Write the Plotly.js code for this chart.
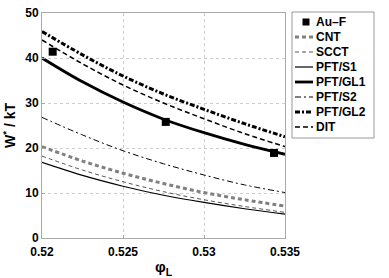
<!DOCTYPE html>
<html><head><meta charset="utf-8">
<script src="https://cdn.plot.ly/plotly-3.0.1.min.js"></script>
<style>body{margin:0;padding:0;background:#fff}#plot{width:389px;height:278px}</style>
</head><body><div id="plot"></div>
<script>
const phi = [0.52, 0.5225, 0.525, 0.5275, 0.53, 0.5325, 0.535];
const auF_phi = [0.52066, 0.52764, 0.53432];
const auF_W = [41.4, 25.8, 18.9];
const cnt = [20.3, 17.1, 14.4, 12.1, 10.1, 8.5, 7.1];
const scct = [18.2, 15.1, 12.5, 10.3, 8.5, 7.0, 5.7];
const pftS1 = [16.8, 13.9, 11.5, 9.5, 7.9, 6.5, 5.3];
const pftGL1 = [40.0, 34.7, 30.2, 26.4, 23.4, 20.8, 18.6];
const pftS2 = [26.8, 22.9, 19.4, 16.5, 14.0, 11.8, 10.1];
const pftGL2 = [45.9, 40.7, 36.0, 32.0, 28.6, 25.4, 22.5];
const dit = [44.0, 38.7, 34.0, 30.0, 26.5, 23.2, 20.3];
const seriesNames = ['Au\u2013F', 'CNT', 'SCCT', 'PFT/S1', 'PFT/GL1', 'PFT/S2', 'PFT/GL2', 'DIT'];
const xTicks = [0.52, 0.525, 0.53, 0.535];
const yTicks = [0, 10, 20, 30, 40, 50];

// styles (index-aligned with seriesNames, index 0 = markers)
const styles = [
  null,
  {color: '#808080', width: 3, dash: '4px,3px'},
  {color: '#555', width: 1, dash: '4px,3px'},
  {color: '#000', width: 1.2, dash: 'solid'},
  {color: '#000', width: 2.8, dash: 'solid'},
  {color: '#000', width: 1, dash: '6px,3px,2px,3px'},
  {color: '#000', width: 3, dash: '5px,2px,2px,2px'},
  {color: '#000', width: 1.5, dash: '5px,3px'}
];
const seriesY = [null, cnt, scct, pftS1, pftGL1, pftS2, pftGL2, dit];

const data = [
  {x: auF_phi, y: auF_W, name: seriesNames[0], type: 'scatter', mode: 'markers',
   marker: {symbol: 'square', color: '#000', size: 8}}
];
for (let i = 1; i < seriesNames.length; i++) {
  data.push({x: phi, y: seriesY[i], name: seriesNames[i], type: 'scatter', mode: 'lines',
    line: Object.assign({shape: 'spline'}, styles[i])});
}

// plot area in pixels: left 42, right 285, top 13, bottom 238
const PL = 42, PR = 285, PT = 13, PB = 238;
const px = p => (p - PL) / (PR - PL);
const py = q => (PB - q) / (PB - PT);

const shapes = [];
const annotations = [];
// manual legend box
shapes.push({type: 'rect', xref: 'paper', yref: 'paper', x0: px(292), x1: px(374), y0: py(12), y1: py(138),
  line: {color: '#999', width: 1}, fillcolor: '#fff', layer: 'above'});
for (let i = 0; i < seriesNames.length; i++) {
  const yy = 22 + 15 * i;
  if (i === 0) {
    shapes.push({type: 'rect', xref: 'paper', yref: 'paper', x0: px(302.5), x1: px(309.5), y0: py(yy + 3.5), y1: py(yy - 3.5),
      line: {width: 0}, fillcolor: '#000', layer: 'above'});
  } else {
    shapes.push({type: 'line', xref: 'paper', yref: 'paper', x0: px(295), x1: px(313), y0: py(yy), y1: py(yy),
      line: styles[i], layer: 'above'});
  }
  annotations.push({xref: 'paper', yref: 'paper', x: px(314), y: py(yy), xanchor: 'left', yanchor: 'middle',
    text: seriesNames[i], showarrow: false,
    font: {family: 'Liberation Sans, Arial, sans-serif', size: 12, color: '#000', weight: 'bold'}});
}

const font = {family: 'Liberation Sans, Arial, sans-serif', color: '#000'};
const axisCommon = {
  showline: true, mirror: true, linecolor: '#aaa', linewidth: 1,
  ticks: 'inside', ticklen: 3, tickcolor: '#aaa',
  showgrid: true, gridcolor: '#ccc', griddash: 'dot', gridwidth: 1,
  zeroline: false,
  tickfont: {family: font.family, size: 12, color: '#000', weight: 'bold'}
};

const layout = {
  width: 389, height: 278,
  margin: {l: PL, r: 389 - PR, t: PT, b: 278 - PB},
  paper_bgcolor: '#fff', plot_bgcolor: '#fff',
  font: font,
  showlegend: false,
  xaxis: Object.assign({}, axisCommon, {
    range: [0.52, 0.535], tickvals: xTicks, ticktext: xTicks.map(String),
    ticklabelstandoff: 3,
    title: {text: '\u03c6<sub>L</sub>', font: {size: 15, family: font.family, weight: 'bold'}, standoff: 3}
  }),
  yaxis: Object.assign({}, axisCommon, {
    range: [0, 50], tickvals: yTicks,
    title: {text: 'W<sup>*</sup> / kT', font: {size: 14, family: font.family, weight: 'bold'}, standoff: 6}
  }),
  shapes: shapes,
  annotations: annotations
};

Plotly.newPlot('plot', data, layout, {displayModeBar: false, staticPlot: true});
</script></body></html>
